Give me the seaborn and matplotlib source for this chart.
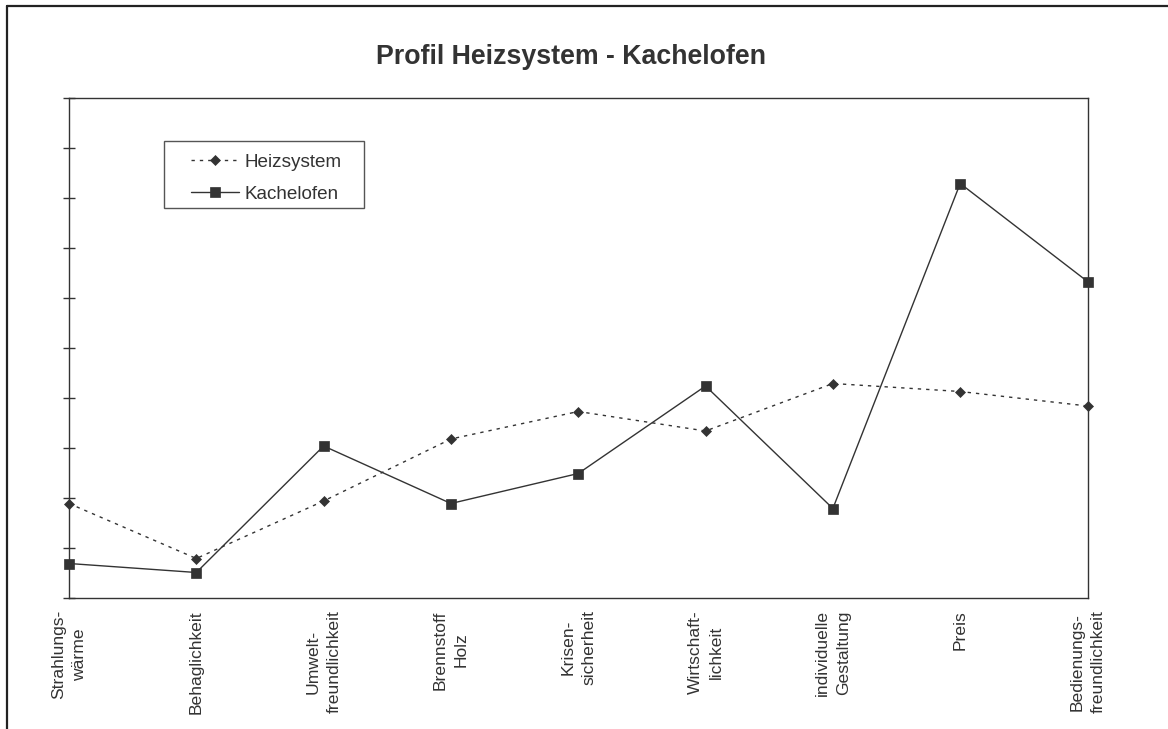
import matplotlib
matplotlib.use("Agg")
import matplotlib.pyplot as plt
from matplotlib.lines import Line2D
from matplotlib.patches import Rectangle
import seaborn as sns
import pandas as pd
import numpy as np

categories = ["Strahlungs-\nwärme", "Behaglichkeit", "Umwelt-\nfreundlichkeit",
              "Brennstoff\nHolz", "Krisen-\nsicherheit", "Wirtschaft-\nlichkeit",
              "individuelle\nGestaltung", "Preis", "Bedienungs-\nfreundlichkeit"]
heizsystem = [1.89, 0.79, 1.94, 3.18, 3.73, 3.34, 4.29, 4.13, 3.84]
kachelofen = [0.69, 0.51, 3.04, 1.89, 2.49, 4.24, 1.79, 8.29, 6.33]
series_names = ["Heizsystem", "Kachelofen"]
title = "Profil Heizsystem - Kachelofen"

sns.set_theme(style="white")
plt.rcParams["font.family"] = ["Liberation Sans", "DejaVu Sans"]
ink = "#333333"
W, H = 1168, 729

fig = plt.figure(figsize=(W/100, H/100), dpi=100)
ax = fig.add_axes([69/W, 1-598/H, (1087.5-69)/W, (598-98)/H])

pos = np.arange(len(categories))
df = pd.DataFrame({"pos": np.concatenate([pos, pos]),
                   "value": heizsystem + kachelofen,
                   "series": [series_names[0]]*len(pos) + [series_names[1]]*len(pos)})

sns.lineplot(data=df[df.series == series_names[0]], x="pos", y="value", ax=ax,
             color=ink, linestyle=(0, (2.4, 3.6)), linewidth=1.0,
             marker="D", markersize=5.2, markeredgewidth=0.5, markeredgecolor=ink,
             label=series_names[0], sort=False, clip_on=False)
sns.lineplot(data=df[df.series == series_names[1]], x="pos", y="value", ax=ax,
             color=ink, linestyle="-", linewidth=1.0,
             marker="s", markersize=6.6, markeredgewidth=0.5, markeredgecolor=ink,
             label=series_names[1], sort=False, clip_on=False)

ax.set_xlim(0, len(categories) - 1)
ax.set_ylim(0, 10)
ax.set_yticks(np.arange(0, 11, 1))
ax.set_yticklabels([])
ax.set_xticks(pos)
ax.set_xticklabels(categories, rotation=90, va="top", ha="center",
                   multialignment="center", fontsize=12.6, color=ink,
                   linespacing=1.5)
ax.set_xlabel("")
ax.set_ylabel("")
ax.tick_params(axis="both", direction="inout", length=8.5, width=1.0, color=ink)
ax.tick_params(axis="x", pad=4.5)
ax.tick_params(axis="y", left=True)
for s in ax.spines.values():
    s.set_visible(True)
    s.set_color(ink)
    s.set_linewidth(1.0)
ax.grid(False)

# legend: box drawn as its own rectangle, entries placed inside
leg = ax.legend(loc="upper left",
                bbox_to_anchor=(190.7/W, 1-153.5/H), bbox_transform=fig.transFigure,
                borderaxespad=0, frameon=False, fontsize=13.6, handlelength=2.55,
                handletextpad=0.3, borderpad=0, labelspacing=0.78)
for t in leg.get_texts():
    t.set_color(ink)
fig.add_artist(Rectangle((164/W, 1-208/H), (364-164)/W, (208-141)/H,
                         transform=fig.transFigure, facecolor="none",
                         edgecolor="#555555", linewidth=1.0, zorder=1))

fig.text(570.5/W, 1-56.5/H, title, ha="center", va="center",
         fontsize=19.3, fontweight="bold", color=ink)

# figure border (only top and left visible in the crop)
fig.add_artist(Line2D([7/W, 7/W], [0, 1-6/H], transform=fig.transFigure,
                      color="#222222", linewidth=1.6))
fig.add_artist(Line2D([7/W, 1], [1-6/H, 1-6/H], transform=fig.transFigure,
                      color="#222222", linewidth=1.6))

fig.savefig("out.png", dpi=100)
